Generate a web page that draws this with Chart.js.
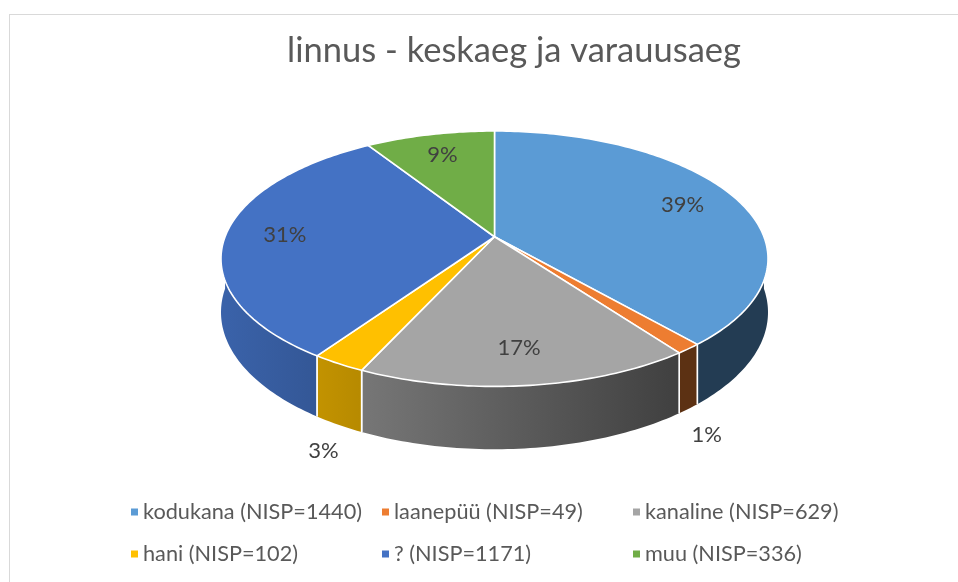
<!DOCTYPE html>
<html>
<head>
<meta charset="utf-8">
<script src="https://cdn.jsdelivr.net/npm/chart.js@4.4.1/dist/chart.umd.min.js"></script>
<style>
  html, body { margin: 0; background: #fff; overflow: hidden; }
  #wrap { position: absolute; left: 9px; top: 14px; width: 1008px; height: 590px; border: 1px solid #d9d9d9; }
</style>
</head>
<body>
<div id="wrap"><canvas id="chart" width="1008" height="590"></canvas></div>
<script>
const chartTitle = "linnus - keskaeg ja varauusaeg";
const categories = ["kodukana", "laanepüü", "kanaline", "hani", "?", "muu"];
const nisp = [1440, 49, 629, 102, 1171, 336];
const sliceColors = ["#5B9BD5", "#ED7D31", "#A5A5A5", "#FFC000", "#4472C4", "#70AD47"];

const legendLabels = categories.map((c, i) => `${c} (NISP=${nisp[i]})`);
const total = nisp.reduce((a, b) => a + b, 0);
const pctLabels = nisp.map((n) => Math.round((n / total) * 100) + "%");

const FONT = "Lato, 'Open Sans', sans-serif";
const TILT = 0.172;  // perspective strength
const FLAT = 0.46;   // vertical / horizontal radius of the top face
const DEPTH = 0.193; // side height / horizontal radius

function geometry(chart) {
  const area = chart.chartArea;
  const arc = chart.getDatasetMeta(0).data[0];
  const A = ((area.right - area.left) / 2) * Math.sqrt(1 - TILT * TILT);
  const B = A * FLAT;
  return { cx: arc.x, cy: area.top + B / (1 + TILT), A, B, h: A * DEPTH };
}

// point on the tilted disc: angle, radius fraction, drop (0 = top face, 1 = bottom)
function proj(g, ang, r, drop) {
  const u = r * Math.cos(ang), v = r * Math.sin(ang);
  const w = 1 - TILT * v;
  return [g.cx + (g.A * u) / w, g.cy + (g.B * v + drop * g.h) / w];
}

function trace(ctx, g, a0, a1, drop, move) {
  const steps = Math.max(2, Math.ceil(Math.abs(a1 - a0) / (Math.PI / 180)));
  for (let i = 0; i <= steps; i++) {
    const p = proj(g, a0 + ((a1 - a0) * i) / steps, 1, drop);
    if (i === 0 && move) ctx.moveTo(p[0], p[1]);
    else ctx.lineTo(p[0], p[1]);
  }
}

function shade(hex, f) {
  const n = parseInt(hex.slice(1), 16);
  const r = Math.round(((n >> 16) & 255) * f);
  const gg = Math.round(((n >> 8) & 255) * f);
  const b = Math.round((n & 255) * f);
  return `rgb(${r},${gg},${b})`;
}

const pie3d = {
  id: "pie3d",
  beforeDatasetsDraw(chart) {
    const ctx = chart.ctx;
    const g = geometry(chart);
    const arcs = chart.getDatasetMeta(0).data;

    ctx.save();
    // outer side walls (front half only)
    arcs.forEach((arc) => {
      const lo = Math.max(arc.startAngle, 0);
      const hi = Math.min(arc.endAngle, Math.PI);
      if (hi <= lo) return;
      const col = arc.options.backgroundColor;
      ctx.beginPath();
      trace(ctx, g, lo, hi, 0, true);
      trace(ctx, g, hi, lo, 1, false);
      ctx.closePath();
      const grad = ctx.createLinearGradient(g.cx - g.A, 0, g.cx + g.A, 0);
      grad.addColorStop(0, shade(col, 0.86));
      grad.addColorStop(0.84, shade(col, 0.39));
      grad.addColorStop(1, shade(col, 0.39));
      ctx.fillStyle = grad;
      ctx.fill();

      ctx.strokeStyle = arc.options.borderColor;
      ctx.lineWidth = arc.options.borderWidth;
      [arc.startAngle, arc.endAngle].forEach((a) => {
        if (a > 0 && a < Math.PI) {
          const p = proj(g, a, 1, 0), q = proj(g, a, 1, 1);
          ctx.beginPath();
          ctx.moveTo(p[0], p[1]);
          ctx.lineTo(q[0], q[1]);
          ctx.stroke();
        }
      });
    });

    // top faces
    arcs.forEach((arc) => {
      const c = proj(g, 0, 0, 0);
      ctx.beginPath();
      ctx.moveTo(c[0], c[1]);
      trace(ctx, g, arc.startAngle, arc.endAngle, 0, false);
      ctx.closePath();
      ctx.fillStyle = arc.options.backgroundColor;
      ctx.fill();
      ctx.lineJoin = "round";
      ctx.strokeStyle = arc.options.borderColor;
      ctx.lineWidth = arc.options.borderWidth;
      ctx.stroke();
    });

    // percentage labels
    ctx.fillStyle = "#404040";
    ctx.font = `22px ${FONT}`;
    ctx.textAlign = "center";
    ctx.textBaseline = "middle";
    arcs.forEach((arc, i) => {
      const mid = (arc.startAngle + arc.endAngle) / 2;
      let x, y;
      if (nisp[i] / total >= 0.05) {
        [x, y] = proj(g, mid, 0.78, 0);
      } else {
        x = proj(g, mid, 1.08, 0)[0];
        y = proj(g, mid, 1, 1)[1] + 26;
      }
      ctx.fillText(pctLabels[i], x, y);
    });
    ctx.restore();
    return false;
  },
  afterDraw(chart) {
    const ctx = chart.ctx;
    ctx.save();
    // title, centred on the whole chart box
    ctx.font = `34.5px ${FONT}`;
    ctx.fillStyle = "#595959";
    ctx.textAlign = "center";
    ctx.textBaseline = "middle";
    ctx.fillText(chartTitle, chart.width / 2, 36);

    // legend in three columns, two rows
    const top = chart.chartArea.bottom;
    const left = 121, colW = 251, rows = [62, 104];
    ctx.font = `21.7px ${FONT}`;
    ctx.textAlign = "left";
    legendLabels.forEach((t, i) => {
      const x = left + (i % 3) * colW;
      const y = top + rows[Math.floor(i / 3)];
      ctx.fillStyle = sliceColors[i];
      ctx.fillRect(x, y - 3.5, 7, 7);
      ctx.fillStyle = "#595959";
      ctx.fillText(t, x + 12, y);
    });
    ctx.restore();
  },
};

new Chart(document.getElementById("chart"), {
  type: "pie",
  data: {
    labels: legendLabels,
    datasets: [
      {
        data: nisp,
        backgroundColor: sliceColors,
        borderColor: "#ffffff",
        borderWidth: 1.6,
      },
    ],
  },
  options: {
    responsive: false,
    maintainAspectRatio: false,
    animation: false,
    devicePixelRatio: 1,
    layout: { padding: { left: 211, right: 250, top: 116, bottom: 155 } },
    plugins: {
      legend: { display: false },
      tooltip: { enabled: false },
      title: { display: false },
    },
  },
  plugins: [pie3d],
});
</script>
</body>
</html>
